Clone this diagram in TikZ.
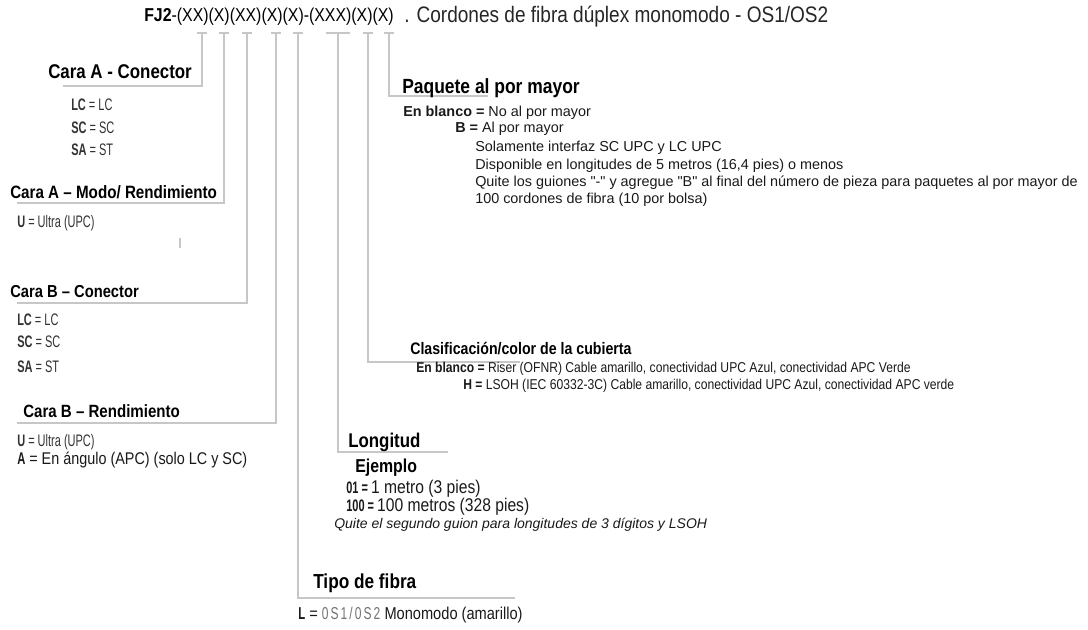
\documentclass[tikz,border=0pt]{standalone}
\usepackage{fontspec}
\setmainfont{Liberation Sans}[FakeStretch=0.85]
\newfontfamily\narrowfont{Liberation Sans}[FakeStretch=0.66]
\newfontfamily\wideit{Liberation Sans}
\newfontfamily\spacedfont{Liberation Sans}[FakeStretch=0.7,LetterSpace=12]
\usetikzlibrary{positioning}
\newcommand\fsz[1]{\fontsize{#1}{#1}\selectfont}

\begin{document}
\begin{tikzpicture}[x=0.75pt,y=-0.75pt,
  lead/.style={draw=black!22,line width=0.9pt},
  head/.style={anchor=west,inner sep=0pt,font=\bfseries\fsz{12}},
  body/.style={anchor=west,inner sep=0pt,text=black!90,font=\fsz{9.5}},
  pbody/.style={body,font=\wideit\fsz{10.8}},
  code/.style={anchor=west,inner sep=0pt,text=black!80,font=\narrowfont\fsz{12.5}}]
\useasboundingbox (0,0) rectangle (1088,629);

% part number
\node[anchor=west,inner sep=0pt,font=\fsz{14}] (pn) at (144,17)
  {\textbf{FJ2}-(XX)(X)(XX)(X)(X)-(XXX)(X)(X)};
\node[anchor=west,inner sep=0pt,text=black!85,font=\fsz{16.8}] (desc) at (404,17)
  {. Cordones de fibra d\'uplex monomodo - OS1/OS2};

% ticks under the part number
\foreach \n/\x/\w in {1/202/5,2/224/5,3/247/5,4/276/5,5/298/5,6/338/12,7/368/5,8/389/5}{
  \coordinate (t\n) at (\x,33);
  \draw[lead] (t\n) ++(-\w,0) -- ++(2*\w,0);
}

% underline ends
\coordinate (e1) at (63,86);
\coordinate (e2) at (17,203);
\coordinate (e3) at (17,303);
\coordinate (e4) at (17,423);
\coordinate (e5) at (515,598);
\coordinate (e6) at (448,452);
\coordinate (e7) at (520,362);
\coordinate (e8) at (488,96);

\foreach \n in {1,...,8}
  \draw[lead] (t\n) |- (e\n);
\draw[lead] (180,238) -- (180,248);

% Cara A - Conector
\node[head,font=\bfseries\fsz{14.9}] (hA) at (48,72) {Cara A - Conector};
\node[code] (aLC) at (71,105) {\textbf{LC} = LC};
\node[code] (aSC) at (71,128) {\textbf{SC} = SC};
\node[code] (aSA) at (71,150) {\textbf{SA} = ST};

% Cara A - Modo
\node[head,font=\bfseries\fsz{13.4}] (hAm) at (10,192) {Cara A -- Modo/ Rendimiento};
\node[code] (aU) at (17,223) {\textbf{U} = Ultra (UPC)};

% Cara B - Conector
\node[head,font=\bfseries\fsz{13}] (hB) at (10,292) {Cara B -- Conector};
\node[code] (bLC) at (17,320) {\textbf{LC} = LC};
\node[code] (bSC) at (17,342) {\textbf{SC} = SC};
\node[code] (bSA) at (17,367) {\textbf{SA} = ST};

% Cara B - Rendimiento
\node[head,font=\bfseries\fsz{13.3}] (hBr) at (23,411) {Cara B -- Rendimiento};
\node[code] (bU) at (17,442) {\textbf{U} = Ultra (UPC)};
\node[body,font=\fsz{12.7}] (bA) at (17,460) {{\narrowfont\bfseries A} = En \'angulo (APC) (solo LC y SC)};

% Paquete al por mayor
\node[head,font=\bfseries\fsz{15.4}] (hP) at (402,88) {Paquete al por mayor};
\node[pbody] (p1) at (403,113) {\textbf{En blanco =} No al por mayor};
\node[pbody] (p2) at (455,129) {\textbf{B =} Al por mayor};
\node[pbody] (p3) at (475,148) {Solamente interfaz SC UPC y LC UPC};
\node[pbody] (p4) at (475,166) {Disponible en longitudes de 5 metros (16,4 pies) o menos};
\node[pbody] (p5) at (475,183) {Quite los guiones "-" y agregue "B" al final del n\'umero de pieza para paquetes al por mayor de};
\node[pbody] (p6) at (475,200) {100 cordones de fibra (10 por bolsa)};

% Clasificacion
\node[head,font=\bfseries\fsz{12.5}] (hC) at (410,349) {Clasificaci\'on/color de la cubierta};
\node[body,font=\fsz{10.7}] (c1) at (416,369) {\textbf{En blanco =} Riser (OFNR) Cable amarillo, conectividad UPC Azul, conectividad APC Verde};
\node[body,font=\fsz{10.7}] (c2) at (463,386) {\textbf{H =} LSOH (IEC 60332-3C) Cable amarillo, conectividad UPC Azul, conectividad APC verde};

% Longitud
\node[head,font=\bfseries\fsz{14.9}] (hL) at (348,442) {Longitud};
\node[head,font=\bfseries\fsz{14}] (lE) at (355,468) {Ejemplo};
\node[body,font=\fsz{13.8}] (l1) at (346,489) {{\narrowfont\bfseries\fsz{12.5}01 =}\,1 metro (3 pies)};
\node[body,font=\fsz{13.8}] (l2) at (346,507) {{\narrowfont\bfseries\fsz{12.5}100 =}\,100 metros (328 pies)};
\node[body,font=\wideit\itshape\fsz{10.5}] (l3) at (334,525) {Quite el segundo guion para longitudes de 3 d\'igitos y LSOH};

% Tipo de fibra
\node[head,font=\bfseries\fsz{15.2}] (hT) at (313,583) {Tipo de fibra};
\node[body,font=\fsz{12.9}] (tL) at (298,615) {{\narrowfont\bfseries L} = {\spacedfont\color{black!55}0S1/0S2} Monomodo (amarillo)};
\end{tikzpicture}
\end{document}
